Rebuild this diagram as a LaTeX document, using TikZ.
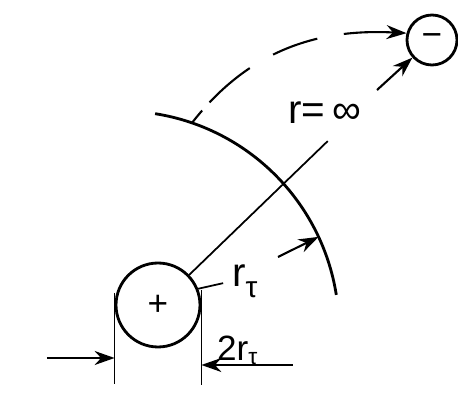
\documentclass[tikz,border=0pt]{standalone}
\usepackage{fontspec}
\setmainfont{Liberation Sans}
\usetikzlibrary{arrows.meta, positioning, calc}

\begin{document}
\begin{tikzpicture}[
    x=0.02cm, y=0.02cm,
    ion/.style={draw, circle, line width=1.6pt, inner sep=0pt, minimum size=#1, font=\fontsize{20}{20}\selectfont},
    thin line/.style={line width=1pt},
    arrow/.style={-{Stealth[length=4mm, width=2.8mm]}, line width=1.2pt},
    lbl/.style={font=\fontsize{#1}{#1}\selectfont, inner sep=1pt}
]
\useasboundingbox (0,0) rectangle (458,403);

%% Ions
\node[ion=1.68cm] (plus) at (158,98) {+};
\node[ion=1cm] (minus) at (432,363) {−};

%% Boundary arc
\coordinate (arcc) at (121,74);
\draw[line width=1.6pt] ($(arcc)+(81:218)$) arc[start angle=81, end angle=9, radius=218];

%% Radius line and r_tau
\coordinate (far) at ($(plus.center)+(44:236)$);
\draw[thin line] (plus.44) -- (far);
\node[lbl=23, anchor=base west] (rt) at (230,116) {r\raisebox{-0.5ex}{\fontsize{17}{17}\selectfont τ}};
\draw[thin line, shorten >=4pt] (plus.22) -- (rt.west);
\coordinate (rtail) at (278,146);
\coordinate (rhead) at ($(arcc)+(25:218)$);
\draw[arrow] (rtail) -- (rhead);

%% Path to infinity
\node[lbl=23, anchor=base west] (rinf) at (286,279) {r=\hspace{4pt}∞};
\coordinate (dstart) at ($(arcc)+(71:218)$);
\draw[arrow, dash pattern=on 0.32cm off 0.22cm on 1.06cm off 0.54cm on 0.94cm off 0.54cm on 2cm]
    (dstart) to[out=52, in=177] (minus.165);
\coordinate (itail) at (377,313);
\draw[arrow] (itail) -- (minus.222);

%% Diameter
\draw[thin line] (plus.west |- 0,110) -- (plus.west |- 0,19);
\draw[thin line] (plus.east |- 0,113) -- (plus.east |- 0,18);
\coordinate (ltail) at (47,45);
\draw[arrow] (ltail) -- (plus.west |- ltail);
\coordinate (etail) at (293,38);
\draw[arrow] (etail) -- (plus.east |- etail);
\node[lbl=20, anchor=base west] (dia) at (215,42) {2r\raisebox{-0.2ex}{\fontsize{13}{13}\selectfont τ}};

\end{tikzpicture}
\end{document}
